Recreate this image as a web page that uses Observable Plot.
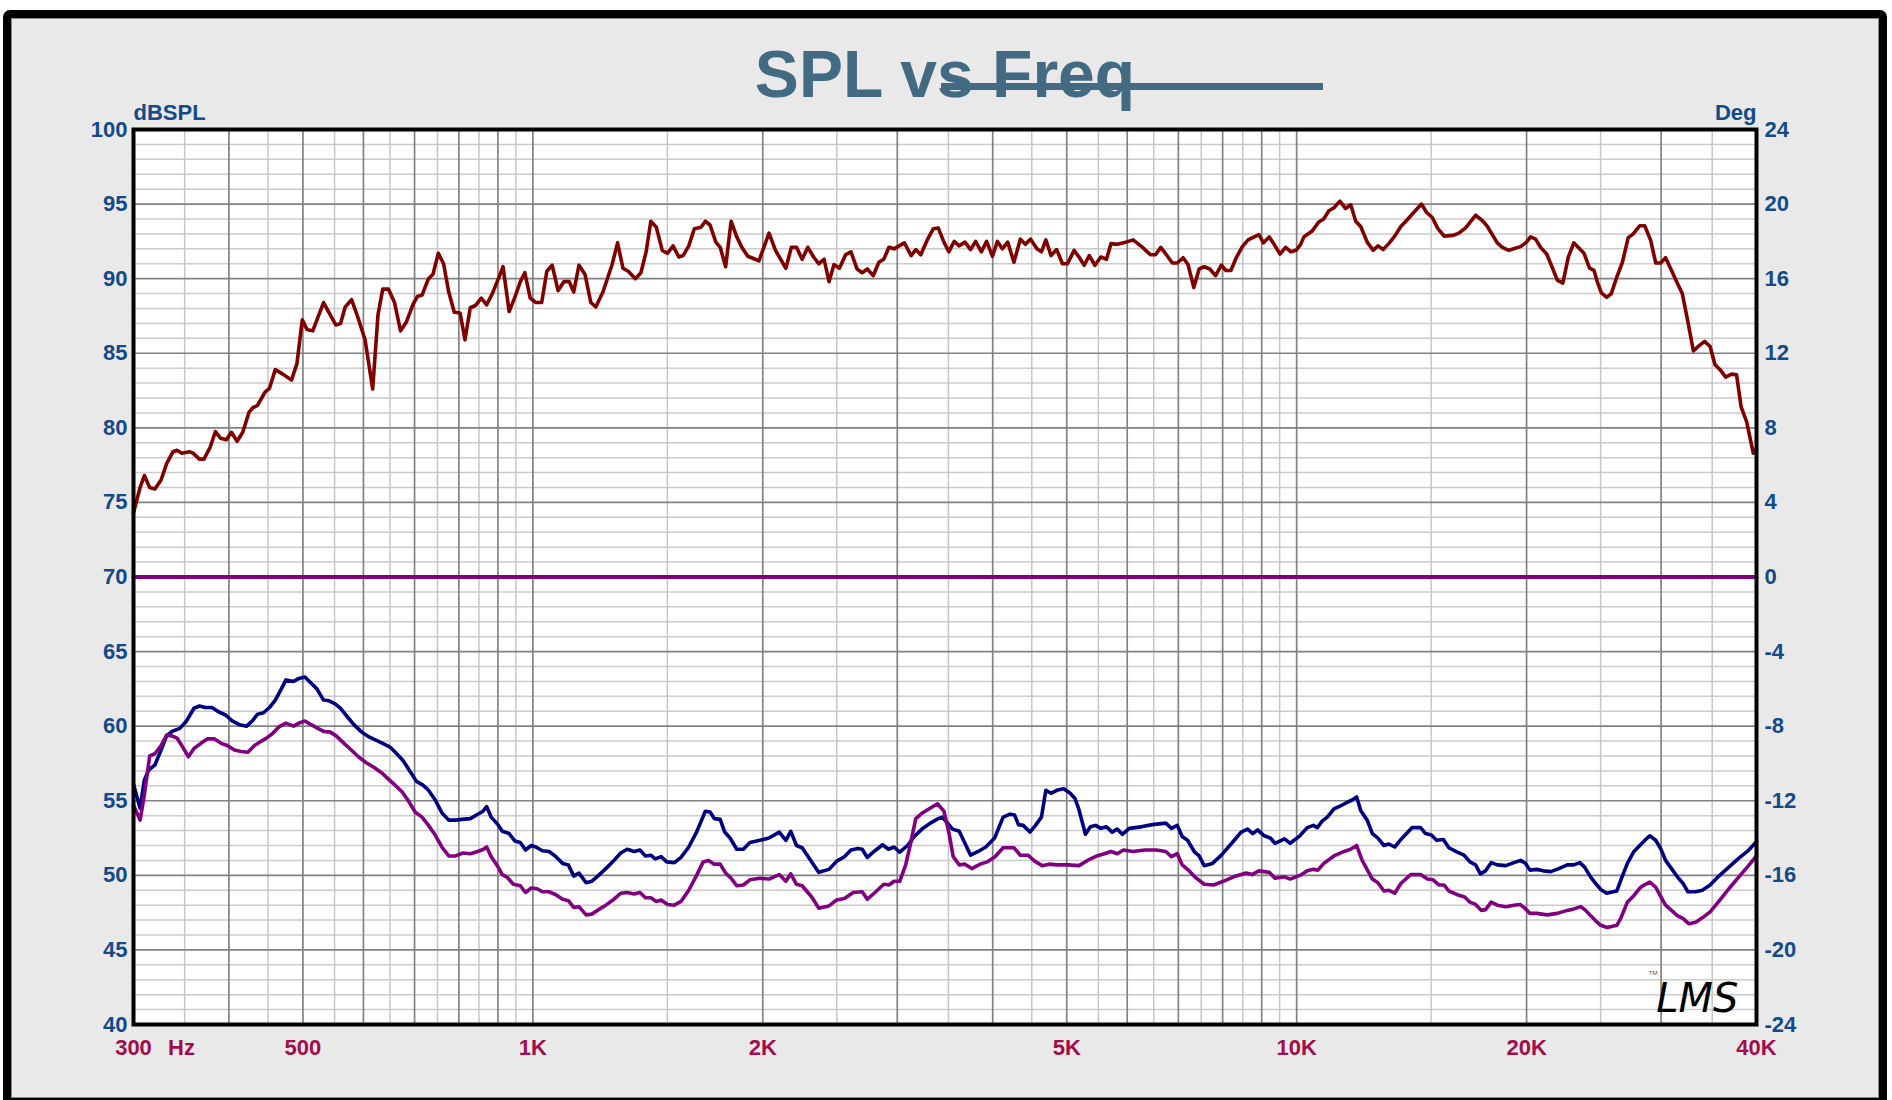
<!DOCTYPE html>
<html><head><meta charset="utf-8">
<script src="https://cdn.jsdelivr.net/npm/d3@7"></script>
<script src="https://cdn.jsdelivr.net/npm/@observablehq/plot@0.6"></script>
<style>
html,body{margin:0;padding:0;background:#fff;width:1892px;height:1100px;overflow:hidden;}
#page{position:relative;width:1892px;height:1100px;}
#panel{position:absolute;left:3px;top:10px;width:1884px;height:1096px;box-sizing:border-box;border:8px solid #000;border-radius:7px 7px 0 0;background:#e9e9e9;box-shadow:inset 0 0 0 1px #8a8a8a;}
#chart{position:absolute;left:0;top:0;}
#strike{position:absolute;left:941px;top:83px;width:382px;height:7px;background:#436a83;}
</style></head>
<body><div id="page"><div id="panel"></div><div id="chart"></div><div id="strike"></div></div>
<script>
const titleText = "SPL vs Freq";
const leftUnit = "dBSPL";
const rightUnit = "Deg";
const dbTicks = [100,95,90,85,80,75,70,65,60,55,50,45,40];
const degLabels = ["24","20","16","12","8","4","0","-4","-8","-12","-16","-20","-24"];
const freqTicks = [300,500,1000,2000,5000,10000,20000,40000];
const freqLabels = ["300","500","1K","2K","5K","10K","20K","40K"];
const majorFreqGrid = [400,500,600,700,800,900,1000,2000,3000,4000,5000,6000,7000,8000,9000,10000,20000,30000];
const minorFreqGrid = [350,450,550,650,750,850,950,1500,2500,3500,4500,5500,6500,7500,8500,9500,15000,25000,35000];
const majorDbGrid = [45,50,55,60,65,70,75,80,85,90,95];
const minorDbGrid = [41,42,43,44,46,47,48,49,51,52,53,54,56,57,58,59,61,62,63,64,66,67,68,69,71,72,73,74,76,77,78,79,81,82,83,84,86,87,88,89,91,92,93,94,96,97,98,99];

// SPL response [Hz, dBSPL]
const splPts = [[300,74.3],[306,76.0],[310,76.8],[315,76.0],[320,75.9],[326,76.5],[331.5,77.6],[338,78.4],[342,78.5],[347,78.3],[355,78.4],[359,78.3],[366,77.9],[371,77.9],[378,78.7],[384,79.75],[390,79.3],[397,79.2],[403,79.7],[410,79.1],[417,79.7],[425,81.05],[430,81.35],[436,81.5],[446,82.4],[452,82.65],[460,83.9],[470.5,83.6],[483,83.2],[491,84.3],[499,87.25],[506,86.6],[515,86.5],[532,88.4],[552,86.9],[560,87.0],[568,88.1],[579,88.6],[591,87.3],[603,85.9],[617,82.6],[627,87.6],[636,89.3],[647,89.3],[659,88.4],[671,86.5],[683,87.1],[697,88.3],[706,88.8],[716,88.9],[730,90.0],[740,90.3],[752,91.7],[764,91.0],[776,89.1],[789,87.75],[803,87.7],[815,85.9],[828,88.05],[841,88.2],[856,88.7],[870,88.25],[885,89.0],[903,90.1],[914,90.8],[931,87.8],[947,88.75],[963,89.8],[976,90.4],[992,88.7],[1009,88.4],[1027,88.4],[1043,90.5],[1060,90.9],[1079,89.2],[1098,89.8],[1116,89.8],[1131,89.1],[1149,90.9],[1170,90.3],[1191,88.4],[1209,88.1],[1235,89.1],[1269,90.9],[1291,92.4],[1312,90.7],[1333,90.5],[1362,90.0],[1385,90.4],[1407,91.8],[1427,93.85],[1451,93.45],[1477,91.9],[1501,91.7],[1526,92.2],[1553,91.45],[1573,91.55],[1600,92.2],[1627,93.35],[1660,93.45],[1682,93.85],[1706,93.6],[1736,92.45],[1759,92.1],[1788,90.8],[1818,93.85],[1849,92.8],[1880,92.05],[1912,91.5],
[1977,91.2],[2038,93.05],[2078,91.9],[2144,90.7],[2180,92.1],[2214,92.1],[2252,91.3],[2291,92.1],[2331,91.45],[2367,91.0],[2406,91.3],[2442,89.8],[2479,90.95],[2520,90.7],[2567,91.6],[2609,91.8],[2657,90.65],[2699,90.4],[2741,90.65],[2790,90.2],[2838,91.1],[2880,91.3],[2926,92.1],[2971,92.0],[3065,92.4],[3128,91.55],[3172,91.95],[3220,91.6],[3284,92.6],[3345,93.35],[3394,93.4],[3453,92.45],[3504,91.8],[3562,92.5],[3616,92.2],[3679,92.45],[3742,91.95],[3799,92.5],[3866,91.8],[3927,92.5],[3997,91.5],[4057,92.5],[4118,92.0],[4185,92.45],[4264,91.1],[4348,92.65],[4413,92.3],[4484,92.65],[4570,92.0],[4633,91.8],[4695,92.6],[4769,91.55],[4851,91.95],[4936,91.0],[5012,91.0],[5112,91.9],[5188,91.45],[5271,90.9],[5351,91.55],[5444,90.9],[5540,91.45],[5636,91.3],[5714,92.35],[5821,92.3],[5934,92.4],[6107,92.6],[6268,92.15],[6436,91.6],[6534,91.6],[6640,92.1],[6764,91.55],[6874,91.05],[6978,91.05],[7101,91.4],[7207,90.95],[7334,89.4],[7453,90.65],[7568,90.8],[7697,90.65],[7831,90.2],[7970,90.9],[8080,90.55],[8202,90.55],[8343,91.45],[8490,92.15],[8639,92.6],[8760,92.75],[8924,92.95],[9048,92.4],[9207,92.8],[9343,92.3],[9510,91.65],[9672,92.1],[9832,91.8],[9980,91.9],
[10120,92.3],[10220,92.8],[10480,93.2],[10690,93.8],[10850,94.0],[11020,94.55],[11190,94.75],[11390,95.2],[11590,94.7],[11770,94.95],[11950,93.85],[12130,93.5],[12370,92.45],[12590,91.9],[12780,92.2],[12980,91.95],[13200,92.35],[13440,92.85],[13690,93.5],[13930,93.9],[14240,94.45],[14570,95.0],[14790,94.45],[15050,94.1],[15310,93.35],[15600,92.85],[16030,92.9],[16310,93.05],[16640,93.4],[17150,94.25],[17500,93.9],[17770,93.5],[18310,92.4],[18590,92.1],[18960,91.9],[19640,92.15],[20000,92.45],[20240,92.8],[20550,92.65],[20860,92.1],[21250,91.65],[21610,90.75],[21940,89.9],[22310,89.7],[22680,91.45],[23060,92.4],[23780,91.7],[24180,90.7],[24510,90.55],[24750,89.8],[25060,89.05],[25460,88.75],[25820,89.0],[26250,90.1],[26700,91.1],[27170,92.75],[27580,93.0],[28140,93.55],[28560,93.55],[29080,92.55],[29520,91.05],[29960,91.05],[30410,91.4],[30960,90.55],[31510,89.7],[31980,89.0],[32530,87.1],[33070,85.15],[33620,85.5],[34200,85.8],[34780,85.45],[35290,84.25],[35840,83.9],[36450,83.4],[37090,83.6],[37670,83.55],[38190,81.4],[38830,80.4],[39610,78.3],[40000,78.6]];

// navy curve [Hz, dB]
const navyPts = [[300,56.1],[306,54.5],[310,56.4],[314,57.05],[320,57.4],[326,58.4],[331.5,59.35],[337,59.65],[345,59.85],[352,60.35],[360,61.2],[366,61.35],[372.5,61.25],[380,61.25],[388,60.95],[396,60.75],[404,60.35],[413,60.1],[422,60.0],[430,60.4],[436,60.8],[444,60.9],[452,61.25],[460,61.75],[468.5,62.5],[475,63.1],[486,63.0],[494,63.2],[503,63.3],[511,62.95],[521.5,62.5],[532,61.75],[541,61.7],[551,61.5],[560,61.2],[569,60.75],[583,60.1],[597,59.6],[609,59.3],[624,59.05],[636,58.85],[650,58.6],[662,58.2],[676,57.7],[689,57.05],[704,56.3],[718,56.05],[730,55.7],[745,55.05],[760,54.2],[776,53.7],[792,53.7],[808,53.75],[828,53.8],[847,54.1],[860.5,54.3],[870,54.6],[882,53.9],[900,53.4],[912,52.95],[931,52.8],[947,52.3],[963,52.2],[978,51.7],[995,52.0],[1009,51.9],[1029,51.65],[1050,51.6],[1072,51.25],[1094,50.8],[1113,50.7],[1131,49.95],[1149,50.15],[1174,49.5],[1194,49.6],[1219,50.0],[1246,50.45],[1277,51.0],[1303,51.5],[1329,51.75],[1357,51.6],[1381,51.7],[1404,51.3],[1427,51.35],[1446,51.1],[1472,51.25],[1497,50.9],[1532,50.85],[1563,51.2],[1600,51.9],[1638,52.9],[1660,53.6],[1682,54.3],[1706,54.25],[1728,53.8],[1759,53.75],[1783,52.9],[1812,52.5],[1849,51.75],[1886,51.75],[1924,52.2],[1983,52.35],[2038,52.5],[2102,52.9],[2144,52.35],[2176,52.95],[2214,52.0],[2252,51.85],[2318,50.9],[2367,50.2],[2442,50.4],[2499,50.95],[2558,51.25],[2609,51.7],[2664,51.8],[2699,51.75],[2741,51.2],[2805,51.65],[2870,52.05],[2921,51.75],[2971,51.9],[3022,51.55],[3094,52.0],[3157,52.6],[3232,53.1],[3315,53.5],[3394,53.8],[3434,53.9],[3491,53.5],[3544,53.1],[3616,52.95],[3679,52.15],[3742,51.35],[3829,51.6],[3918,51.9],[4023,52.5],[4128,53.9],[4214,54.1],[4272,54.05],[4323,53.4],[4385,53.35],[4475,52.9],[4551,53.35],[4633,53.9],[4695,55.7],[4769,55.5],[4851,55.7],[4954,55.8],[5053,55.5],[5126,55.15],[5188,54.4],[5290,52.75],[5370,53.25],[5455,53.35],[5540,53.15],[5636,53.25],[5733,52.9],[5821,53.1],[5912,52.75],[6038,53.15],[6257,53.25],[6471,53.4],[6740,53.5],[6856,53.15],[6978,53.35],[7082,52.6],[7197,52.35],[7354,51.55],[7453,51.3],[7568,50.65],[7759,50.8],[7970,51.35],[8269,52.3],[8459,52.9],[8625,53.1],[8760,52.8],[8889,53.05],[9071,52.65],[9236,52.5],[9369,52.15],[9640,52.45],[9806,52.15],[10095,52.65],[10325,53.2],[10517,53.35],[10642,53.2],[10806,53.65],[10969,53.9],[11190,54.45],[11412,54.65],[11647,54.9],[11826,55.05],[11983,55.25],[12130,54.35],[12370,53.7],[12564,52.8],[12776,52.5],[13010,52.0],[13200,52.1],[13440,51.9],[13690,52.4],[13958,52.85],[14167,53.2],[14530,53.2],[14750,52.8],[15010,52.7],[15250,52.35],[15565,52.4],[15822,51.85],[16230,51.55],[16563,51.35],[16865,50.9],[17150,50.7],[17400,50.1],[17675,50.3],[17974,50.85],[18310,50.7],[18782,50.65],[19256,50.85],[19640,51.0],[19942,50.8],[20206,50.35],[20613,50.4],[21042,50.3],[21512,50.25],[22043,50.45],[22613,50.7],[23060,50.7],[23490,50.85],[23825,50.55],[24252,49.9],[24632,49.45],[25012,49.05],[25460,48.8],[26250,48.95],[26627,49.8],[27101,50.8],[27645,51.6],[28197,52.05],[28639,52.4],[28998,52.65],[29520,52.35],[29960,51.8],[30410,51.0],[30960,50.45],[31510,49.9],[32063,49.45],[32530,48.9],[33300,48.9],[33975,49.0],[34780,49.35],[35708,49.95],[36800,50.55],[37932,51.15],[38903,51.6],[40000,52.25]];

// purple curve [Hz, dB]
const purplePts = [[300,54.7],[306,53.7],[310,55.4],[315,58.0],[320,58.15],[326,58.7],[331.5,59.4],[337,59.35],[342,59.2],[348,58.6],[354,57.95],[360,58.5],[367.6,58.85],[375,59.15],[382.6,59.15],[390.7,58.85],[398,58.7],[406.7,58.4],[415,58.3],[423.5,58.25],[432,58.7],[439.7,58.95],[448,59.2],[456,59.5],[465,59.95],[475,60.2],[486,60.0],[494,60.2],[503,60.35],[512.5,60.1],[523,59.85],[532,59.65],[543,59.6],[552.7,59.35],[566,58.85],[577,58.45],[591,57.95],[605,57.55],[619,57.25],[633,56.9],[647,56.45],[660,56.05],[674,55.6],[687,55.0],[701,54.25],[716,53.9],[730,53.35],[745,52.7],[760,51.9],[776,51.3],[792,51.3],[810,51.5],[828,51.45],[847,51.6],[862,51.75],[870,51.9],[882,51.25],[897,50.7],[912,50.05],[926,49.85],[943,49.4],[963,49.3],[978,48.85],[995,49.15],[1013,49.1],[1029,48.9],[1050,48.9],[1072,48.7],[1094,48.4],[1113,48.3],[1131,47.85],[1149,47.9],[1174,47.35],[1194,47.4],[1219,47.7],[1246,48.0],[1277,48.4],[1303,48.8],[1329,48.85],[1357,48.75],[1381,48.85],[1404,48.5],[1427,48.5],[1451,48.25],[1472,48.35],[1501,48.05],[1532,48.0],[1563,48.25],[1600,49.0],[1638,50.0],[1671,50.9],[1698,51.0],[1728,50.75],[1759,50.75],[1788,50.15],[1818,49.8],[1849,49.3],[1886,49.35],[1924,49.7],[1983,49.8],[2038,49.75],[2102,50.05],[2144,49.6],[2176,50.1],[2214,49.4],[2252,49.3],[2318,48.55],[2367,47.8],[2442,47.95],[2499,48.35],[2558,48.45],[2627,48.85],[2699,48.9],[2741,48.4],[2805,48.85],[2880,49.4],[2926,49.35],[2971,49.6],[3022,49.6],[3077,50.7],[3123,52.15],[3172,53.8],[3239,54.2],[3323,54.55],[3387,54.8],[3453,54.3],[3504,52.9],[3551,51.25],[3616,50.7],[3679,50.75],[3755,50.45],[3852,50.75],[3934,50.9],[4028,51.25],[4128,51.85],[4264,51.85],[4348,51.35],[4451,51.35],[4538,50.95],[4642,50.65],[4741,50.75],[4851,50.7],[5022,50.7],[5188,50.65],[5323,51.0],[5476,51.3],[5602,51.45],[5714,51.6],[5821,51.45],[5934,51.7],[6107,51.6],[6324,51.7],[6550,51.7],[6740,51.6],[6856,51.25],[6978,51.45],[7082,50.7],[7197,50.4],[7354,49.9],[7568,49.4],[7787,49.35],[8016,49.6],[8269,49.9],[8591,50.15],[8740,50.05],[8924,50.3],[9207,50.2],[9369,49.8],[9640,49.9],[9806,49.75],[10152,50.05],[10325,50.3],[10517,50.4],[10661,50.35],[10854,50.8],[11190,51.3],[11535,51.6],[11770,51.75],[11983,52.0],[12183,51.0],[12564,49.75],[12776,49.5],[13010,48.95],[13200,49.0],[13440,48.8],[13690,49.45],[14102,50.05],[14530,50.05],[14830,49.75],[15090,49.7],[15354,49.35],[15600,49.35],[15822,48.95],[16230,48.7],[16593,48.55],[16865,48.2],[17150,48.05],[17454,47.65],[17675,47.7],[17974,48.2],[18310,48.0],[18782,47.9],[19256,48.0],[19608,48.05],[19889,47.8],[20206,47.45],[20613,47.45],[21287,47.35],[21941,47.45],[22613,47.65],[23060,47.75],[23553,47.9],[23896,47.65],[24252,47.3],[24632,46.95],[25012,46.65],[25510,46.5],[26250,46.65],[26556,47.1],[27101,48.2],[27645,48.65],[28140,49.15],[28500,49.35],[28998,49.55],[29520,49.2],[29909,48.65],[30410,48.0],[30960,47.65],[31510,47.3],[32063,47.1],[32626,46.75],[33300,46.85],[33975,47.15],[34780,47.55],[35708,48.25],[36800,49.1],[37932,49.9],[38903,50.55],[40000,51.3]];

// phase [Hz, Deg]
const phasePts = [[300,0],[40000,0]];

const blue = "#124a8a", crimson = "#a30d4a", titleColor = "#436a83";
const deg2db = d => 70 + d * 60 / 48;

const chart = Plot.plot({
  width: 1892, height: 1100,
  marginLeft: 133, marginRight: 136, marginTop: 129, marginBottom: 76,
  x: {type: "log", domain: [300, 40000], axis: null},
  y: {domain: [40, 100], axis: null},
  style: {background: "transparent", fontFamily: "'Liberation Sans', Arial, sans-serif"},
  marks: [
    Plot.frame({fill: "white", stroke: "none"}),
    Plot.ruleY(minorDbGrid, {stroke: "#cbcbcb", strokeWidth: 1.5}),
    Plot.ruleX(minorFreqGrid, {stroke: "#c6c6c6", strokeWidth: 1.5}),
    Plot.ruleY(majorDbGrid, {stroke: "#828282", strokeWidth: 1.7}),
    Plot.ruleX(majorFreqGrid, {stroke: "#828282", strokeWidth: 1.7}),
    Plot.line(phasePts, {x: d => d[0], y: d => deg2db(d[1]), stroke: "#800080", strokeWidth: 4}),
    Plot.line(navyPts, {x: d => d[0], y: d => d[1], stroke: "#000080", strokeWidth: 3.6, strokeLinejoin: "round"}),
    Plot.line(purplePts, {x: d => d[0], y: d => d[1], stroke: "#800080", strokeWidth: 3.6, strokeLinejoin: "round"}),
    Plot.line(splPts, {x: d => d[0], y: d => d[1], stroke: "#800000", strokeWidth: 3.6, strokeLinejoin: "round"}),
    Plot.frame({stroke: "black", strokeWidth: 4}),
    Plot.text(dbTicks, {y: d => d, text: d => String(d), frameAnchor: "left", textAnchor: "end", dx: -6, fill: blue, fontSize: 22, fontWeight: "bold"}),
    Plot.text(dbTicks, {y: d => d, text: (d, i) => degLabels[i], frameAnchor: "right", textAnchor: "start", dx: 8, fill: blue, fontSize: 22, fontWeight: "bold"}),
    Plot.text(freqTicks, {x: d => d, text: (d, i) => freqLabels[i], frameAnchor: "bottom", lineAnchor: "top", dy: 15, fill: crimson, fontSize: 22, fontWeight: "bold"}),
    Plot.text([{f: 300, t: "Hz"}], {x: "f", text: "t", frameAnchor: "bottom", lineAnchor: "top", dx: 48, dy: 15, fill: crimson, fontSize: 22, fontWeight: "bold"}),
    Plot.text([leftUnit], {frameAnchor: "top-left", textAnchor: "start", lineAnchor: "bottom", dy: -10, fill: blue, fontSize: 22, fontWeight: "bold"}),
    Plot.text([rightUnit], {frameAnchor: "top-right", textAnchor: "end", lineAnchor: "bottom", dy: -10, fill: blue, fontSize: 22, fontWeight: "bold"}),
    Plot.text([titleText], {frameAnchor: "top", lineAnchor: "bottom", dy: -33, fill: titleColor, fontSize: 66, fontWeight: "bold"}),
    Plot.text(["LMS"], {frameAnchor: "bottom-right", textAnchor: "end", lineAnchor: "bottom", dx: -18, dy: -13, fill: "black", fontSize: 40, fontStyle: "italic", fontWeight: 200, fontFamily: "DejaVu Sans"}),
    Plot.text(["TM"], {frameAnchor: "bottom-right", textAnchor: "end", lineAnchor: "bottom", dx: -99, dy: -50, fill: "#555", fontSize: 6})
  ]
});
document.getElementById("chart").appendChild(chart);
</script></body></html>
